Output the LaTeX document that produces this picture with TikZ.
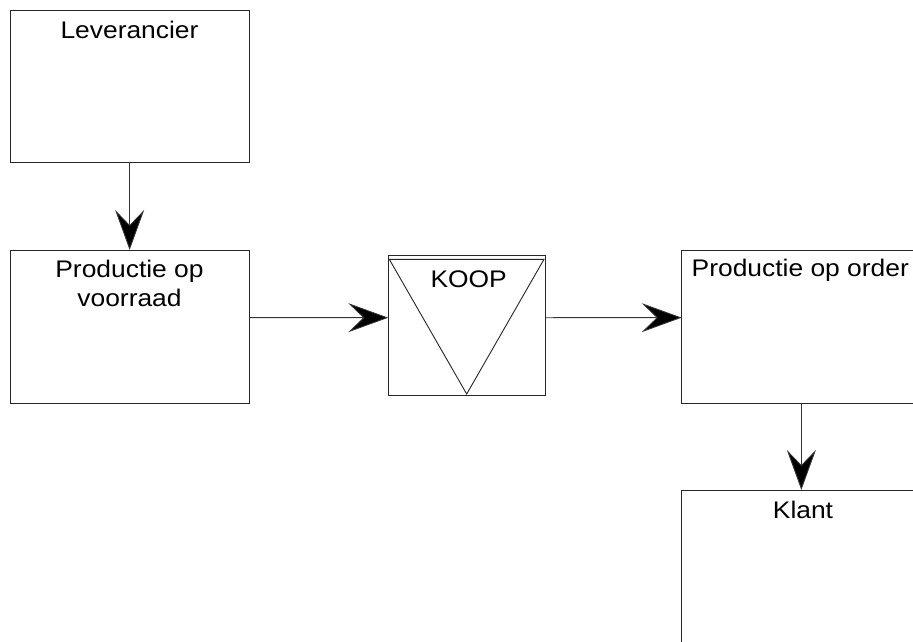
\documentclass[tikz,border=0pt]{standalone}
\usepackage{fontspec}
\setmainfont[FakeStretch=1.1]{Liberation Sans}
\usetikzlibrary{arrows.meta}

\begin{document}
\begin{tikzpicture}[x=1pt,y=-1pt,
  box/.style={draw=black!85, line width=0.9pt, rectangle, inner sep=0pt, outer sep=0pt},
  flow/.style={draw=black!80, line width=0.9pt, -{Stealth[length=40pt,width=29pt,inset=15pt,fill=black]}},
  lbl/.style={font=\fontsize{24}{29.4}\selectfont, inner sep=0pt, outer sep=0pt, align=center}
]
\useasboundingbox (0,0) rectangle (913,642);
\clip (0,0) rectangle (913,642);
\fill[white] (0,0) rectangle (913,642);

% boxes
\node[box, minimum width=239.3pt, minimum height=152pt]   (lev)   at (129.65,86)     {};
\node[box, minimum width=239.3pt, minimum height=153.3pt] (pv)    at (129.65,326.65) {};
\node[box, minimum width=157.4pt, minimum height=140pt]   (koop)  at (467,325.7)     {};
\node[box, minimum width=239.3pt, minimum height=153.3pt] (po)    at (801.35,326.65) {};
\node[box, minimum width=239.3pt, minimum height=152pt]   (klant) at (801.35,566)    {};

% inverted triangle inside the KOOP box
\draw[black!85, line width=0.9pt] (389.3,259.3) -- (544,259.3) -- (466.7,394) -- cycle;

% labels
\node[lbl, anchor=base] (levtxt) at (129.5,39) {Leverancier};
\node[lbl, anchor=base] (pvtxt1) at (129.5,277.3) {Productie op};
\node[lbl, anchor=base] (pvtxt2) at (129.5,306.7) {voorraad};
\node[lbl, anchor=base] (kooptxt) at (468.7,287.7) {KOOP};
\node[lbl, anchor=base west] (potxt) at (691.7,276.7) {Productie op order};
\node[lbl, anchor=base] (klanttxt) at (803,518) {Klant};

% connectors
\draw[flow] (lev.south) -- (pv.north);
\draw[flow] ([yshift=9pt]pv.east) -- ([yshift=8pt]koop.west);
\draw[flow] ([yshift=8pt]koop.east) -- ([yshift=9pt]po.west);
\draw[flow] (po.south) -- (klant.north);
\end{tikzpicture}
\end{document}
